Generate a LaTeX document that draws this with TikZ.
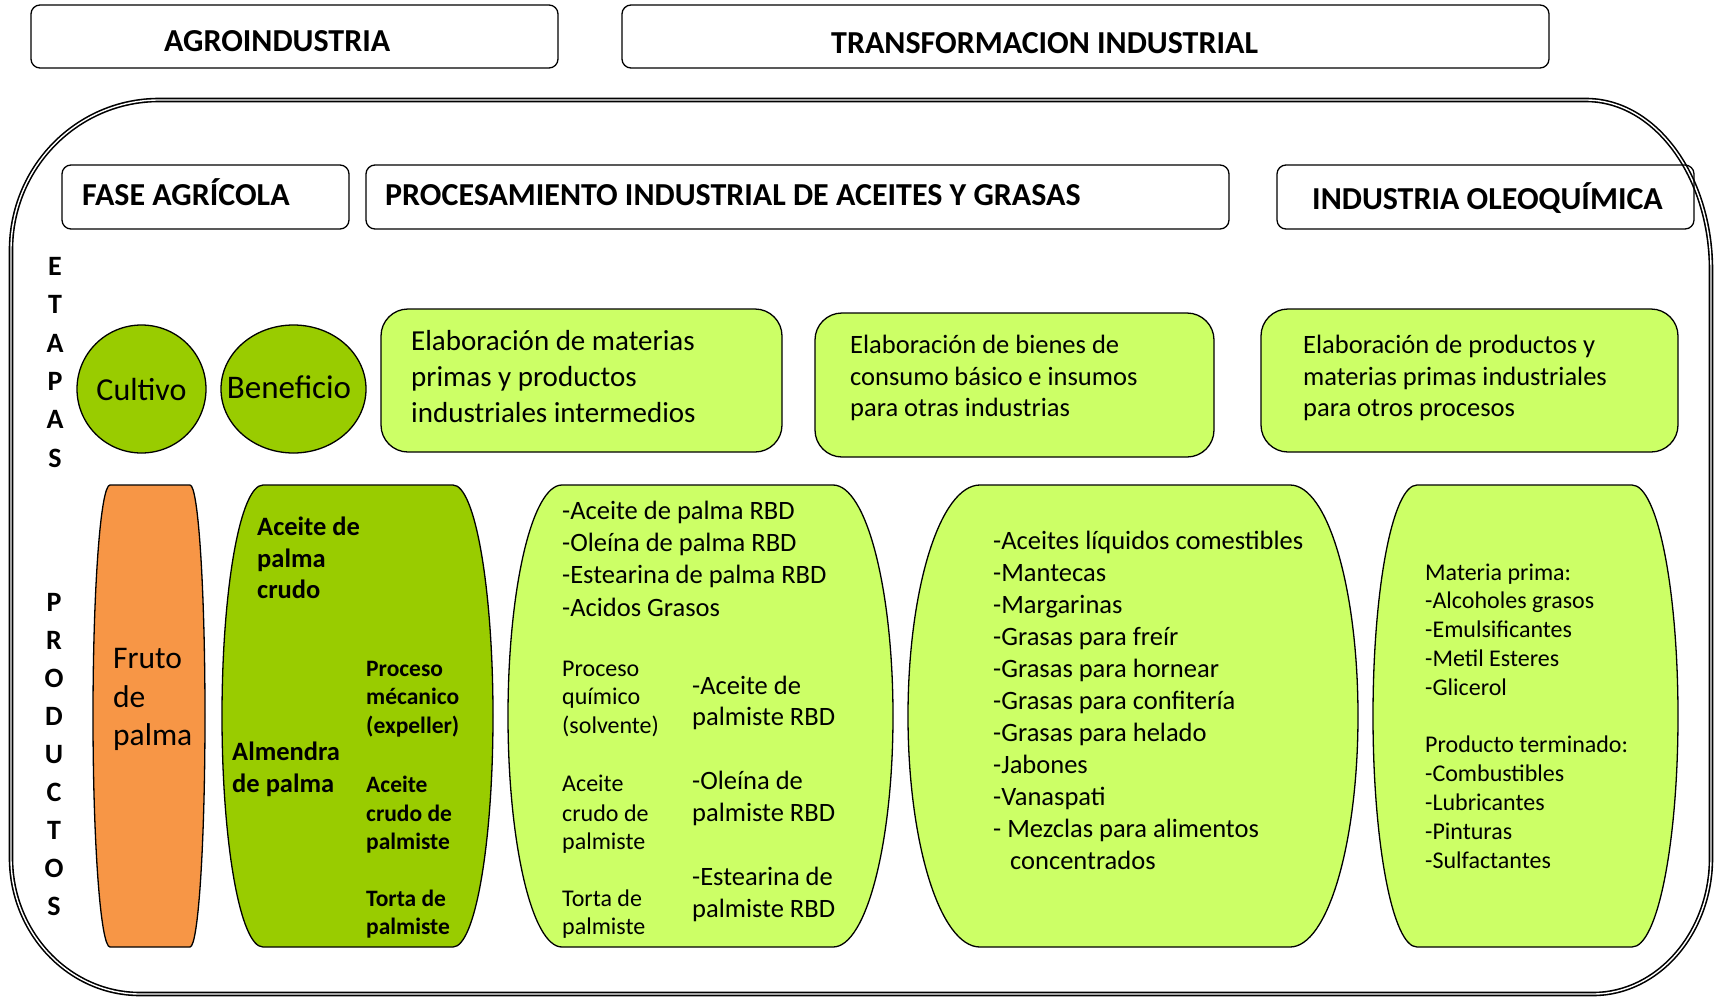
\documentclass[tikz,border=0pt]{standalone}
\usepackage{fontspec}
\setmainfont{Carlito}
\usetikzlibrary{shapes.geometric}
\definecolor{lgreen}{HTML}{CCFF66}
\definecolor{mgreen}{HTML}{99CC00}
\definecolor{orng}{HTML}{F79646}
\newcommand\fsz[2]{\fontsize{#1}{#2}\selectfont}
\newcommand\prodshape[5]{%
 \draw[prodline, fill=#1] (#2,485) -- (#3,485)
  .. controls ({#3+0.5523*(#5-#3)},485) and (#5,588.4) .. (#5,716)
  .. controls (#5,843.6) and ({#3+0.5523*(#5-#3)},947) .. (#3,947)
  -- (#2,947)
  .. controls ({#2-0.5523*(#2-#4)},947) and (#4,843.6) .. (#4,716)
  .. controls (#4,588.4) and ({#2-0.5523*(#2-#4)},485) .. cycle;}
\tikzset{
  hdrbox/.style={draw, line width=1.3pt, rounded corners=9pt, inner sep=0},
  stagebox/.style={draw, line width=1.3pt, rounded corners=27pt, fill=lgreen, inner sep=0},
  circ/.style={draw, ellipse, line width=1.3pt, fill=mgreen, inner sep=0},
  prodline/.style={line width=1.3pt},
  txt/.style={inner sep=0, anchor=base west},
  hdr/.style={txt, font=\bfseries\fsz{32}{38}},
  lett/.style={inner sep=0, anchor=base, font=\bfseries\fsz{28}{33}},
}
\begin{document}
\begin{tikzpicture}[x=1pt,y=-1pt]
\useasboundingbox (0,0) rectangle (1717,999);
% outer frame
\draw[line width=1.6pt, double=white, double distance=1.4pt]
  (11,250) .. controls (11,167.2) and (77.3,100) .. (159,100)
  -- (1586,100) .. controls (1655,100) and (1711,176) .. (1711,270)
  -- (1711,858) .. controls (1711,932.6) and (1658.2,994) .. (1593,994)
  -- (140,994) .. controls (68.8,994) and (11,932.6) .. (11,858) -- cycle;
% top headers
\node[hdrbox, minimum width=527pt, minimum height=63pt] (agro) at (294.5,36.5) {};
\node[hdr] (agrot) at (164,51) {AGROINDUSTRIA};
\node[hdrbox, minimum width=927pt, minimum height=63pt] (trans) at (1085.5,36.5) {};
\node[hdr] (transt) at (831,53) {TRANSFORMACION INDUSTRIAL};
% second row headers
\node[hdrbox, minimum width=287pt, minimum height=64pt] (fase) at (205.5,197) {};
\node[hdr] (faset) at (82,205.5) {FASE AGRÍCOLA};
\node[hdrbox, minimum width=863pt, minimum height=64pt] (proc) at (797.5,197) {};
\node[hdr] (proct) at (385,205.5) {PROCESAMIENTO INDUSTRIAL DE ACEITES Y GRASAS};
\node[hdrbox, minimum width=417pt, minimum height=64pt] (oleo) at (1485.5,197) {};
\node[hdr] (oleot) at (1312,209) {INDUSTRIA OLEOQUÍMICA};
% side letters
\foreach \l/\yy [count=\i] in {E/275,T/313,A/352,P/390,A/428,S/467}
  \node[lett] (et-\i) at (55,\yy) {\l};
\foreach \l [count=\i] in {P,R,O,D,U,C,T,O,S}
  \node[lett] (pr-\i) at (54,{611+38.1*(\i-1)}) {\l};
% stages
\node[circ, minimum width=129pt, minimum height=128pt] (cultivo) at (141.5,389) {};
\node[inner sep=0, anchor=base, font=\fsz{32}{38}] (cultivot) at (141.5,400) {Cultivo};
\node[circ, minimum width=145pt, minimum height=128pt] (beneficio) at (293.5,389) {};
\node[inner sep=0, anchor=base, font=\fsz{33}{38}] (beneficiot) at (289,398) {Beneficio};
\node[stagebox, minimum width=401pt, minimum height=143pt] (st1) at (581.5,380.5) {};
\foreach \t/\yy [count=\i] in {Elaboración de materias/350, primas y productos/386, industriales intermedios/422}
  \node[txt, font=\fsz{29}{35}] (st1-\i) at (411,\yy) {\t};
\node[stagebox, minimum width=399pt, minimum height=144pt] (st2) at (1014.5,385) {};
\foreach \t/\yy [count=\i] in {Elaboración de bienes de/353, consumo básico e insumos/385, para otras industrias/416}
  \node[txt, font=\fsz{26.5}{32}] (st2-\i) at (850,\yy) {\t};
\node[stagebox, minimum width=417pt, minimum height=143pt] (st3) at (1469.5,380.5) {};
\foreach \t/\yy [count=\i] in {Elaboración de productos y/353, materias primas industriales/385, para otros procesos/416}
  \node[txt, font=\fsz{26.5}{32}] (st3-\i) at (1303,\yy) {\t};
% product shapes
\prodshape{orng}{110}{190}{93}{205}
\prodshape{mgreen}{263}{453}{222}{493}
\prodshape{lgreen}{562}{833}{508}{893}
\prodshape{lgreen}{980}{1290}{908}{1358}
\prodshape{lgreen}{1417}{1632}{1373}{1678}
% fruto
\foreach \t/\yy [count=\i] in {Fruto/668, de/707, palma/745}
  \node[txt, font=\fsz{31.5}{38}] (fr-\i) at (113,\yy) {\t};
% almendra column
\foreach \t/\yy [count=\i] in {Aceite de/535, palma/567, crudo/598}
  \node[txt, font=\bfseries\fsz{26.5}{31}] (ap-\i) at (257,\yy) {\t};
\foreach \t/\yy [count=\i] in {Almendra/760, de palma/792}
  \node[txt, font=\bfseries\fsz{26.5}{31}] (al-\i) at (232,\yy) {\t};
\foreach \t/\yy [count=\i] in {Proceso/676, mécanico/704.5, (expeller)/733, Aceite/792, crudo de/821, palmiste/849.5, Torta de/906, palmiste/934.5}
  \node[txt, font=\bfseries\fsz{23.5}{29}] (pm-\i) at (366,\yy) {\t};
% box 3
\foreach \t/\yy [count=\i] in {-Aceite de palma RBD/519, -Oleína de palma RBD/551.5, -Estearina de palma RBD/583.5, -Acidos Grasos/616}
  \node[txt, font=\fsz{26.5}{31}] (b3-\i) at (562,\yy) {\t};
\foreach \t/\yy [count=\i] in {Proceso/676, químico/704.5, (solvente)/733, Aceite/791, crudo de/821, palmiste/849, Torta de/906, palmiste/934}
  \node[txt, font=\fsz{24}{28}] (b3l-\i) at (562,\yy) {\t};
\foreach \t/\yy [count=\i] in {-Aceite de/694, palmiste RBD/725, -Oleína de/789, palmiste RBD/821, -Estearina de/885, palmiste RBD/917}
  \node[txt, font=\fsz{26.5}{31}] (b3r-\i) at (692,\yy) {\t};
% box 4
\foreach \t [count=\i] in {-Aceites líquidos comestibles, -Mantecas, -Margarinas, -Grasas para freír, -Grasas para hornear, -Grasas para confitería, -Grasas para helado, -Jabones, -Vanaspati, - Mezclas para alimentos}
  \node[txt, font=\fsz{26.5}{32}] (b4-\i) at (993,{549+32*(\i-1)}) {\t};
\node[txt, font=\fsz{26.5}{32}] (b4-11) at (1010,869) {concentrados};
% box 5
\foreach \t/\yy [count=\i] in {Materia prima:/580, -Alcoholes grasos/608.8, -Emulsificantes/637.6, -Metil Esteres/666.4, -Glicerol/695.2, Producto terminado:/752.8, -Combustibles/781.6, -Lubricantes/810.4, -Pinturas/839.2, -Sulfactantes/868}
  \node[txt, font=\fsz{24}{29}] (b5-\i) at (1425,\yy) {\t};
\end{tikzpicture}
\end{document}
